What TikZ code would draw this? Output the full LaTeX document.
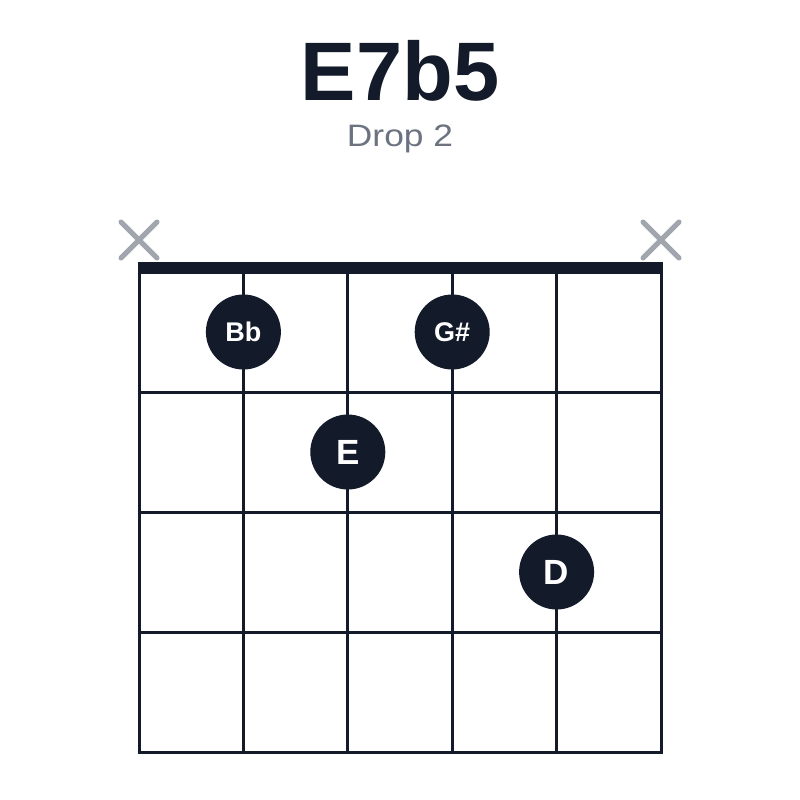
\documentclass[tikz,border=0pt]{standalone}
\usepackage{fontspec}
\setmainfont{Liberation Sans}
\definecolor{ink}{HTML}{131A2A}
\definecolor{xgray}{HTML}{A1A5AD}
\definecolor{subgray}{HTML}{6B7280}
\tikzset{
  fret/.style={draw=ink, line width=3pt},
  nutbar/.style={fill=ink, draw=none},
  mute/.style={draw=xgray, line width=5pt, line cap=round},
  dotnode/.style={circle, fill=ink, draw=none, minimum size=75pt, inner sep=0pt, text=white, font=\bfseries\fontsize{#1}{#1}\selectfont},
}
\begin{document}
\begin{tikzpicture}[x=1pt,y=-1pt]
\useasboundingbox (0,0) rectangle (800,800);
\fill[white] (0,0) rectangle (800,800);
\node[anchor=base, text=ink, font=\bfseries\fontsize{83}{83}\selectfont] (title) at (400,100) {E7b5};
\node[anchor=base, text=subgray, font=\fontsize{31}{31}\selectfont] (sub) at (400,146) {\scalebox{1.14}[1]{Drop 2}};
% strings
\foreach \i/\x in {1/139,2/243.4,3/347.8,4/452.2,5/556.6,6/661} {
  \coordinate (s\i top) at (\x,268);
  \coordinate (s\i bot) at (\x,753.5);
  \draw[fret] (s\i top) -- (s\i bot);
}
% frets
\foreach \j/\y in {1/392,2/512,3/632,4/752} {
  \coordinate (f\j l) at (137.5,\y);
  \coordinate (f\j r) at (662.5,\y);
  \draw[fret] (f\j l) -- (f\j r);
}
% nut
\fill[nutbar] (137.5,262) rectangle (662.5,273.5);
% mutes
\foreach \n/\x in {m1/139,m6/661} {
  \coordinate (\n) at (\x,240);
  \draw[mute] ([shift={(-18,-18)}]\n) -- ([shift={(18,18)}]\n);
  \draw[mute] ([shift={(-18,18)}]\n) -- ([shift={(18,-18)}]\n);
}
% dots
\node[dotnode=27] (bb) at (243.4,332) {Bb};
\node[dotnode=27] (gs) at (452.2,332) {G\#};
\node[dotnode=35] (e) at (347.8,452) {E};
\node[dotnode=35] (d) at (556.6,572) {D};
\end{tikzpicture}
\end{document}
